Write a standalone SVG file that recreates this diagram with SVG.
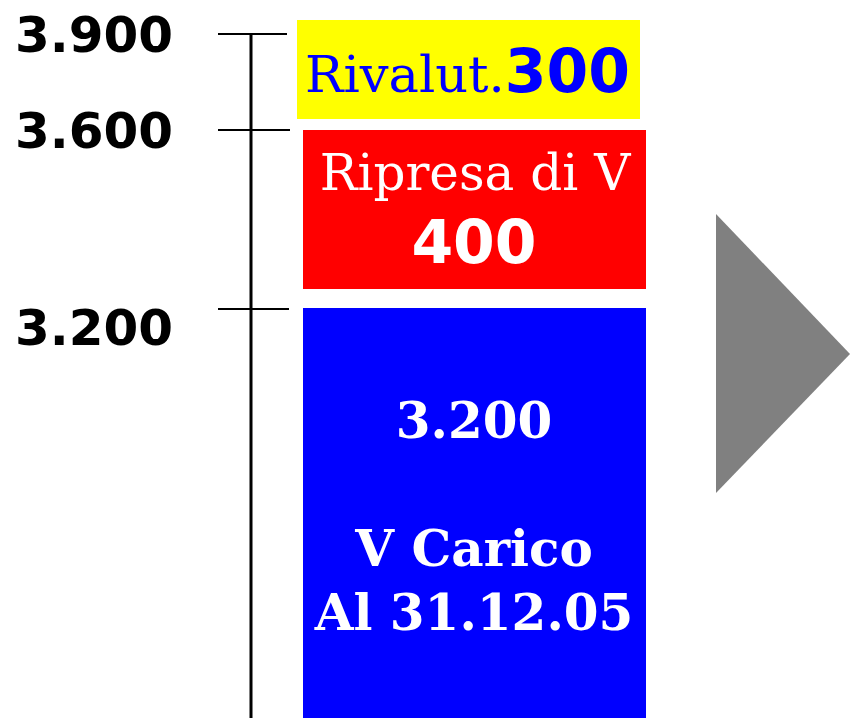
<svg xmlns="http://www.w3.org/2000/svg" width="850" height="718" viewBox="0 0 850 718">
<style>
.axis{font-family:"DejaVu Sans",Verdana,sans-serif;font-weight:bold;font-size:50px;fill:#000}
.ser{font-family:"DejaVu Serif","Liberation Serif",serif}
.sb{font-family:"DejaVu Sans",Verdana,sans-serif;font-weight:bold}
.tick{stroke:#000;stroke-width:2}
</style>
<rect width="850" height="718" fill="#fff"/>
<g id="axis">
<line x1="251" y1="34" x2="251" y2="718" stroke="#000" stroke-width="3"/>
<line class="tick" x1="218" y1="34" x2="287" y2="34"/>
<line class="tick" x1="218" y1="130" x2="290" y2="130"/>
<line class="tick" x1="218" y1="309" x2="289" y2="309"/>
<text class="axis" x="15" y="52">3.900</text>
<text class="axis" x="15" y="148">3.600</text>
<text class="axis" x="15" y="345">3.200</text>
</g>
<g id="rivalut">
<rect x="297" y="20" width="343" height="99" fill="#ffff00"/>
<text x="305" y="92" fill="#0000ff"><tspan class="ser" font-size="51">Rivalut.</tspan><tspan class="sb" font-size="60">300</tspan></text>
</g>
<g id="ripresa">
<rect x="303" y="130" width="343" height="159" fill="#ff0000"/>
<text class="ser" x="475" y="190" font-size="50" fill="#fff" text-anchor="middle">Ripresa di V</text>
<text class="sb" x="474" y="263" font-size="60" fill="#fff" text-anchor="middle">400</text>
</g>
<g id="carico">
<rect x="303" y="308" width="343" height="410" fill="#0000ff"/>
<g class="ser" font-weight="bold" font-size="50" fill="#fff" text-anchor="middle">
<text x="474" y="438">3.200</text>
<text x="474" y="566">V Carico</text>
<text x="474" y="630">Al 31.12.05</text>
</g>
</g>
<g id="arrow">
<polygon points="716,214 850,354 716,493" fill="#808080"/>
</g>
</svg>
